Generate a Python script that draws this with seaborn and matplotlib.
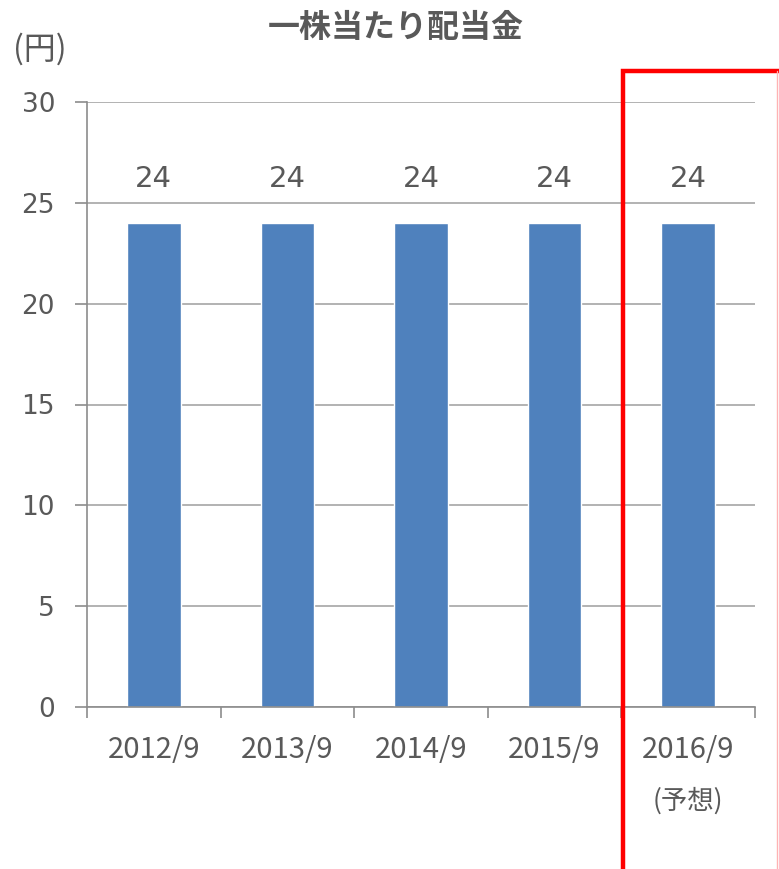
import matplotlib
matplotlib.use("Agg")
import matplotlib.pyplot as plt
import seaborn as sns
import pandas as pd
from matplotlib.lines import Line2D

# data
years = ["2012/9", "2013/9", "2014/9", "2015/9", "2016/9"]
dividend = [24, 24, 24, 24, 24]
yticks = [0, 5, 10, 15, 20, 25, 30]

sns.set_style("white")
plt.rcParams['font.family'] = ['Noto Sans CJK JP', 'DejaVu Sans']
txt = "#595959"
num_font = ['DejaVu Sans']

df = pd.DataFrame({"year": years, "dividend": dividend})

fig = plt.figure(figsize=(7.79, 8.69), dpi=100)
ax = fig.add_axes([87/779, 1 - 707/869, (755 - 87)/779, (707 - 102)/869])

sns.barplot(data=df, x="year", y="dividend", color="#4F81BD", width=0.4,
            saturation=1, ax=ax)

ax.set_ylim(0, 30)
ax.set_xlim(-0.5, len(years) - 0.5)
ax.set_yticks(yticks)
ax.yaxis.grid(True, color="#A6A6A6", linewidth=1.2)
ax.set_axisbelow(True)
for s in ["top", "right"]:
    ax.spines[s].set_visible(False)
for s in ["left", "bottom"]:
    ax.spines[s].set_color("#8C8C8C")
    ax.spines[s].set_linewidth(1.2)

ax.tick_params(axis="y", left=True, length=9, color="#8C8C8C", width=1.2,
               labelsize=19, labelcolor=txt, pad=14)
for lab in ax.get_yticklabels():
    lab.set_family(num_font)
ax.tick_params(axis="x", which="major", length=0, labelsize=21, labelcolor=txt, pad=20)
ax.set_xticks([i - 0.5 for i in range(len(years) + 1)], minor=True)
ax.tick_params(axis="x", which="minor", bottom=True, length=8, color="#8C8C8C", width=1.2)
ax.set_xlabel("")
ax.set_ylabel("")

for i, v in enumerate(dividend):
    ax.annotate(str(v), (i, v), xytext=(0, 32), textcoords="offset points",
                ha="center", va="center", fontsize=21, color=txt, family=num_font)

ax.text(len(years) - 1, -(801 - 707) / (707 - 102), "(予想)",
        transform=ax.get_xaxis_transform(),
        ha="center", va="center", fontsize=19, color=txt)

fig.text(396/779, 1 - 28/869, "一株当たり配当金", ha="center", va="center",
         fontsize=23, fontweight="bold", color=txt)
fig.text(40/779, 1 - 49/869, "(円)", ha="center", va="center",
         fontsize=23, color=txt)

# red highlight frame around forecast year
x0 = 623/779
ytop = 1 - 71/869
fig.add_artist(Line2D([x0, x0, 1.0], [0, ytop, ytop], transform=fig.transFigure,
                      color="#FF0000", linewidth=3.2, solid_joinstyle="miter"))
fig.add_artist(Line2D([777/779, 777/779], [0, ytop], transform=fig.transFigure,
                      color="#FFB3B3", linewidth=1))

fig.savefig("out.png", dpi=100)
